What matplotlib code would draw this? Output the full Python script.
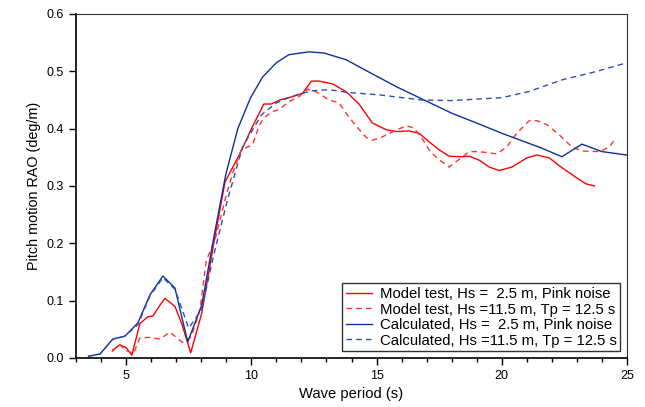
import matplotlib
matplotlib.use("Agg")
import matplotlib.pyplot as plt
from matplotlib.ticker import MultipleLocator, FormatStrFormatter

plt.rcParams['font.family'] = ['Liberation Sans', 'DejaVu Sans']

# Calculated, Hs = 2.5 m, Pink noise
calc_pn_x = [3.5, 3.96, 4.47, 4.95, 5.47, 5.95, 6.47, 6.95, 7.46, 8.02, 8.5, 8.98, 9.46, 9.97,
             10.45, 11.0, 11.5, 12.3, 12.9, 13.8, 14.3, 15.8, 18.0, 19.1, 20.0, 21.6, 22.4,
             23.2, 24.0, 25.0]
calc_pn_y = [0.003, 0.007, 0.033, 0.038, 0.061, 0.11, 0.143, 0.122, 0.028, 0.092, 0.21, 0.32,
             0.40, 0.454, 0.49, 0.515, 0.529, 0.534, 0.532, 0.52, 0.508, 0.473, 0.427, 0.408,
             0.392, 0.366, 0.351, 0.373, 0.36, 0.354]

# Calculated, Hs = 11.5 m, Tp = 12.5 s
calc_js_x = [3.5, 3.96, 4.47, 4.95, 5.47, 5.95, 6.47, 6.95, 7.5, 8.02, 8.5, 9.05, 9.65, 10.4,
             11.0, 11.6, 12.4, 13.1, 13.9, 15.1, 16.8, 18.0, 20.0, 21.1, 22.4, 23.8, 25.0]
calc_js_y = [0.003, 0.007, 0.033, 0.038, 0.058, 0.108, 0.14, 0.12, 0.052, 0.085, 0.18, 0.276,
             0.368, 0.424, 0.445, 0.456, 0.466, 0.468, 0.463, 0.459, 0.45, 0.449, 0.454,
             0.465, 0.485, 0.50, 0.515]

# Model test, Hs = 2.5 m, Pink noise
mt_pn_x = [4.47, 4.75, 5.0, 5.23, 5.55, 5.87, 6.07, 6.35, 6.55, 6.95, 7.22, 7.58, 8.02, 8.5,
           8.95, 9.55, 10.05, 10.5, 10.8, 11.13, 11.65, 12.05, 12.4, 12.7, 13.25, 13.8,
           14.3, 14.83, 15.4, 15.8, 16.3, 16.7, 17.1, 17.5, 17.9, 18.4, 18.7, 19.1, 19.5,
           19.9, 20.4, 21.0, 21.4, 21.9, 22.4, 23.0, 23.35, 23.7]
mt_pn_y = [0.014, 0.023, 0.018, 0.005, 0.06, 0.072, 0.073, 0.092, 0.104, 0.09, 0.06, 0.009,
           0.078, 0.20, 0.307, 0.357, 0.404, 0.443, 0.443, 0.45, 0.456, 0.462, 0.483, 0.483,
           0.478, 0.464, 0.443, 0.41, 0.398, 0.395, 0.396, 0.392, 0.377, 0.363, 0.352,
           0.351, 0.352, 0.345, 0.333, 0.327, 0.333, 0.349, 0.354, 0.349, 0.332, 0.314,
           0.304, 0.30]

# Model test, Hs = 11.5 m, Tp = 12.5 s
mt_js_x = [4.43, 4.75, 5.0, 5.3, 5.55, 5.95, 6.35, 6.75, 7.26, 7.6, 7.95, 8.2, 8.55, 8.98,
           9.26, 9.6, 10.05, 10.3, 10.5, 10.85, 11.1, 11.5, 11.9, 12.25, 12.6, 13.1, 13.5,
           13.9, 14.2, 14.6, 14.85, 15.2, 15.8, 16.2, 16.5, 16.8, 17.1, 17.4, 17.9, 18.4,
           18.7, 19.1, 19.8, 20.2, 20.6, 21.1, 21.4, 21.8, 22.3, 22.8, 23.2, 23.9, 24.3,
           24.55]
mt_js_y = [0.011, 0.023, 0.013, 0.008, 0.035, 0.036, 0.033, 0.045, 0.027, 0.037, 0.084, 0.17,
           0.206, 0.281, 0.323, 0.363, 0.372, 0.404, 0.419, 0.43, 0.433, 0.447, 0.456, 0.469,
           0.464, 0.45, 0.445, 0.42, 0.404, 0.384, 0.38, 0.385, 0.398, 0.405, 0.401, 0.384,
           0.363, 0.349, 0.333, 0.35, 0.36, 0.36, 0.356, 0.368, 0.392, 0.414, 0.414, 0.407,
           0.389, 0.368, 0.361, 0.36, 0.368, 0.384]

labels = ["Model test, Hs =  2.5 m, Pink noise",
          "Model test, Hs =11.5 m, Tp = 12.5 s",
          "Calculated, Hs =  2.5 m, Pink noise",
          "Calculated, Hs =11.5 m, Tp = 12.5 s"]

fig = plt.figure(figsize=(6.45, 4.07), dpi=100)
ax = fig.add_axes([76/645, 1 - 358/407, (627 - 76)/645, (358 - 14)/407])

ax.plot(mt_pn_x, mt_pn_y, color='#ff0000', lw=1.0, label=labels[0])
ax.plot(mt_js_x, mt_js_y, color='#ff3333', lw=1.0, ls=(0, (4, 3)), label=labels[1])
ax.plot(calc_pn_x, calc_pn_y, color='#10309a', lw=1.0, label=labels[2])
ax.plot(calc_js_x, calc_js_y, color='#2a50b8', lw=1.0, ls=(0, (4, 3)), label=labels[3])

ax.set_xlim(3, 25)
ax.set_ylim(0, 0.6)
ax.xaxis.set_major_locator(MultipleLocator(5))
ax.xaxis.set_minor_locator(MultipleLocator(1))
ax.yaxis.set_major_locator(MultipleLocator(0.1))
ax.yaxis.set_major_formatter(FormatStrFormatter('%.1f'))
ax.tick_params(axis='both', which='major', direction='out', length=5, width=1, labelsize=9)
ax.tick_params(axis='x', which='minor', direction='out', length=3, width=1)

for s in ['left', 'bottom']:
    ax.spines[s].set_linewidth(1.2)
for s in ['top', 'right']:
    ax.spines[s].set_linewidth(0.8)
    ax.spines[s].set_color('#333333')

ax.set_xlabel("Wave period (s)", fontsize=10.6)
ax.set_ylabel("Pitch motion RAO (deg/m)", fontsize=10.4)

leg = ax.legend(loc='lower right', fontsize=10.7, frameon=True, fancybox=False,
                edgecolor='black', handlelength=1.8, borderpad=0.25, labelspacing=0.1,
                handletextpad=0.5, borderaxespad=0.45)
leg.get_frame().set_linewidth(1.0)

fig.savefig("out.png", dpi=100)
